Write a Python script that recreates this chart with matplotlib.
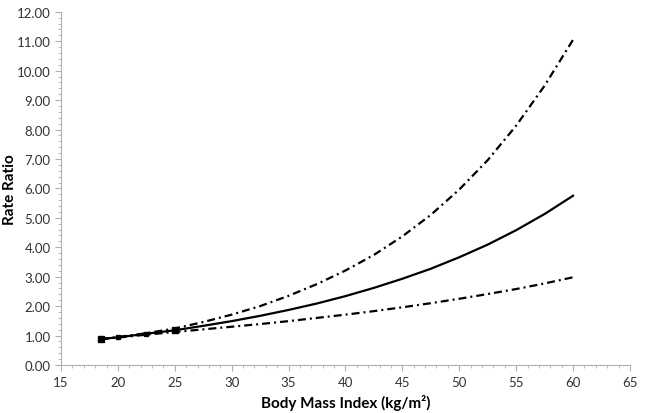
import matplotlib
matplotlib.use("Agg")
import matplotlib.pyplot as plt
from matplotlib.ticker import MultipleLocator, FormatStrFormatter

bmi = [18.5, 20, 22.5, 25, 27.5, 30, 32.5, 35, 37.5, 40, 42.5, 45, 47.5, 50, 52.5, 55, 57.5, 60]
rr_central = [0.88, 0.94, 1.06, 1.18, 1.33, 1.49, 1.67, 1.87, 2.09, 2.34, 2.62, 2.93, 3.27, 3.66, 4.09, 4.58, 5.13, 5.75]
rr_upper = [0.88, 0.95, 1.08, 1.24, 1.46, 1.71, 2.00, 2.35, 2.75, 3.21, 3.74, 4.37, 5.10, 5.96, 6.96, 8.13, 9.49, 11.05]
rr_lower = [0.88, 0.93, 1.03, 1.12, 1.21, 1.30, 1.39, 1.49, 1.60, 1.71, 1.83, 1.96, 2.10, 2.25, 2.41, 2.58, 2.77, 2.98]

plt.rcParams['font.family'] = ['Lato', 'DejaVu Sans']

fig = plt.figure(figsize=(6.45, 4.14), dpi=100)
ax = fig.add_axes([0.0946, 0.116, 0.882, 0.853])

dashdot = (0, (3.6, 1.8, 0.9, 1.8))
ax.plot(bmi, rr_upper, color='black', lw=1.6, linestyle=dashdot)
ax.plot(bmi, rr_lower, color='black', lw=1.6, linestyle=dashdot)
ax.plot(bmi, rr_central, color='black', lw=1.6, linestyle='-',
        marker='s', markersize=4, markevery=[0, 3])
ax.plot(bmi[:4], rr_central[:4], color='black', lw=0, marker='s', markersize=3)

ax.set_xlim(15, 65)
ax.set_ylim(0, 12)
ax.xaxis.set_major_locator(MultipleLocator(5))
ax.xaxis.set_minor_locator(MultipleLocator(1))
ax.yaxis.set_major_locator(MultipleLocator(1))
ax.yaxis.set_minor_locator(MultipleLocator(0.2))
ax.yaxis.set_major_formatter(FormatStrFormatter('%.2f'))

for s in ['top', 'right']:
    ax.spines[s].set_visible(False)
for s in ['left', 'bottom']:
    ax.spines[s].set_color('#b0b0b0')
    ax.spines[s].set_linewidth(0.8)

ax.tick_params(axis='both', which='major', direction='out', length=4, width=0.8,
               color='#b0b0b0', labelsize=9.5, labelcolor='#333333')
ax.tick_params(axis='both', which='minor', direction='out', length=2.5, width=0.6,
               color='#b0b0b0')
ax.tick_params(axis='x', which='major', pad=4)

ax.set_xlabel('Body Mass Index (kg/m²)', fontsize=11, fontweight='bold', labelpad=4)
ax.set_ylabel('Rate Ratio', fontsize=11, fontweight='bold')
ax.yaxis.set_label_coords(-0.077, 0.5)

fig.savefig('out.png', dpi=100)
